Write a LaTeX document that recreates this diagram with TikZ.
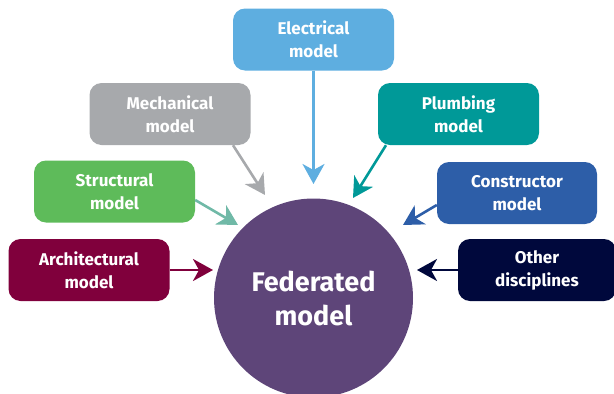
\documentclass[tikz,border=0pt]{standalone}
\usepackage{fontspec}
\setmainfont{Fira Sans}
\usetikzlibrary{arrows.meta}

\definecolor{elecblue}{RGB}{94,174,224}
\definecolor{mechgray}{RGB}{167,169,172}
\definecolor{plumbteal}{RGB}{0,153,152}
\definecolor{structgreen}{RGB}{94,187,90}
\definecolor{structmint}{RGB}{112,185,167}
\definecolor{archred}{RGB}{128,0,60}
\definecolor{consblue}{RGB}{45,94,168}
\definecolor{othernavy}{RGB}{0,8,60}
\definecolor{fedpurple}{RGB}{94,69,121}

\begin{document}
\begin{tikzpicture}[x=1pt,y=-1pt,
  box/.style={rounded corners=12pt,minimum width=161pt,minimum height=62pt,
    text=white,align=center,font=\fontsize{17}{23}\selectfont\bfseries},
  arr/.style={line width=2.6pt,-{Stealth[length=20pt,width=22pt,inset=6pt]}}]
\useasboundingbox (0,0) rectangle (614,394);

\node[circle,fill=fedpurple,minimum size=199pt,text=white,align=center,
  font=\fontsize{27}{34}\selectfont\bfseries] (fed) at (313.5,298) {Federated\\model};

\node[box,fill=elecblue] (elec) at (313.5,39.5) {Electrical\\model};
\node[box,fill=mechgray] (mech) at (170,114) {Mechanical\\model};
\node[box,fill=plumbteal] (plumb) at (458.5,114) {Plumbing\\model};
\node[box,fill=structgreen] (struct) at (114.5,191.5) {Structural\\model};
\node[box,fill=archred] (arch) at (89,270) {Architectural\\model};
\node[box,fill=consblue,minimum width=160pt] (cons) at (517,193) {Constructor\\model};
\node[box,fill=othernavy,minimum width=158pt] (other) at (537,270) {Other\\disciplines};

\coordinate (electip) at (313.5,184);
\coordinate (mechtip) at (265,195);
\coordinate (plumbtip) at (353,198);
\coordinate (structtip) at (238,225);
\coordinate (archtip) at (213,270);
\coordinate (constip) at (403,225);
\coordinate (othertip) at (417,270);

\draw[arr,elecblue] (elec.south) -- (electip);
\draw[arr,mechgray] ([xshift=63pt]mech.south) -- (mechtip);
\draw[arr,plumbteal] ([xshift=-72.5pt]plumb.south) -- (plumbtip);
\draw[arr,structmint] ([yshift=-8.5pt]struct.east) -- (structtip);
\draw[arr,archred] (arch.east) -- (archtip);
\draw[arr,consblue] ([yshift=-12pt]cons.west) -- (constip);
\draw[arr,othernavy] (other.west) -- (othertip);

\end{tikzpicture}
\end{document}
